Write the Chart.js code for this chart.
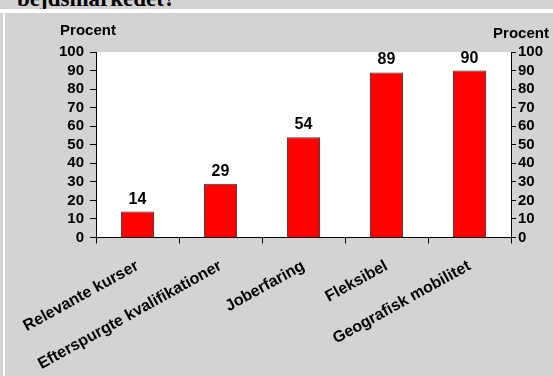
<!DOCTYPE html>
<html>
<head>
<meta charset="utf-8">
<script src="https://cdn.jsdelivr.net/npm/chart.js@4"></script>
<style>
  html, body { margin: 0; padding: 0; }
  body { width: 553px; height: 376px; background: #d3d3d3; position: relative; overflow: hidden; }
  #header { position: absolute; left: 0; top: 0; width: 553px; height: 9px; overflow: hidden; background: #d3d3d3; }
  #header span { position: absolute; left: 17px; top: -13px; font: bold 23px "Liberation Serif", "Times New Roman", serif; color: #000; white-space: nowrap; line-height: 23px; }
  #hline { position: absolute; left: 0; top: 9px; width: 553px; height: 4px; background: #fff; }
  #vline { position: absolute; left: 3px; top: 13px; width: 2px; height: 363px; background: #fff; }
  #c { position: absolute; left: 0; top: 0; }
</style>
</head>
<body>
<div id="header"><span>bejdsmarkedet?</span></div>
<div id="hline"></div>
<div id="vline"></div>
<canvas id="c" width="553" height="376"></canvas>
<script>
const categories = ['Relevante kurser', 'Efterspurgte kvalifikationer', 'Joberfaring', 'Fleksibel', 'Geografisk mobilitet'];
const values = [14, 29, 54, 89, 90];
const yTickValues = [0, 10, 20, 30, 40, 50, 60, 70, 80, 90, 100];
const axisTitleLeft = 'Procent';
const axisTitleRight = 'Procent';

const FONT = '"Liberation Sans", Arial, sans-serif';

const bgPlugin = {
  id: 'plotBg',
  beforeDraw(chart) {
    const { ctx, chartArea: a } = chart;
    ctx.save();
    ctx.fillStyle = '#ffffff';
    ctx.fillRect(a.left, a.top, a.right - a.left, a.bottom - a.top);
    ctx.restore();
  }
};

const labelPlugin = {
  id: 'valueLabels',
  afterDatasetsDraw(chart) {
    const { ctx } = chart;
    const meta = chart.getDatasetMeta(0);
    ctx.save();
    ctx.fillStyle = '#000';
    ctx.font = 'bold 16px ' + FONT;
    ctx.textAlign = 'center';
    ctx.textBaseline = 'alphabetic';
    meta.data.forEach((bar, i) => {
      ctx.fillText(String(values[i]), bar.x, bar.y - 8);
    });
    const a = chart.chartArea;
    ctx.font = 'bold 15px ' + FONT;
    ctx.textBaseline = 'middle';
    ctx.fillText(axisTitleLeft, a.left - 8, a.top - 21);
    ctx.fillText(axisTitleRight, a.right + 10, a.top - 18);
    ctx.restore();
  }
};

function yAxis(position, width, tickLength, padding) {
  return {
    type: 'linear',
    position: position,
    min: 0,
    max: 100,
    afterBuildTicks(scale) { scale.ticks = yTickValues.map(v => ({ value: v })); },
    ticks: { color: '#000', font: { family: FONT, size: 15, weight: 'bold' }, padding: padding, autoSkip: false },
    grid: { drawOnChartArea: false, tickLength: tickLength, color: '#000' },
    border: { color: '#000', width: 1 },
    afterFit(s) { s.width = width; }
  };
}

new Chart(document.getElementById('c'), {
  type: 'bar',
  data: {
    labels: categories,
    datasets: [{
      data: values,
      backgroundColor: '#ff0000',
      borderColor: '#333333',
      borderWidth: 1,
      borderSkipped: 'bottom',
      barPercentage: 0.4,
      categoryPercentage: 1.0
    }]
  },
  options: {
    responsive: false,
    animation: false,
    layout: { padding: { top: 52, left: 0, right: 0, bottom: 0 } },
    plugins: { legend: { display: false }, tooltip: { enabled: false } },
    scales: {
      x: {
        grid: { drawOnChartArea: false, tickLength: 6, color: '#000', offset: true },
        border: { color: '#000', width: 1 },
        ticks: {
          color: '#000',
          font: { family: FONT, size: 16, weight: 'bold' },
          maxRotation: 29, minRotation: 29, autoSkip: false, padding: 13
        },
        afterFit(s) { s.height = 138.5; }
      },
      y: yAxis('left', 96, 6, 6),
      y2: yAxis('right', 42, 5, 2)
    }
  },
  plugins: [bgPlugin, labelPlugin]
});
</script>
</body>
</html>
